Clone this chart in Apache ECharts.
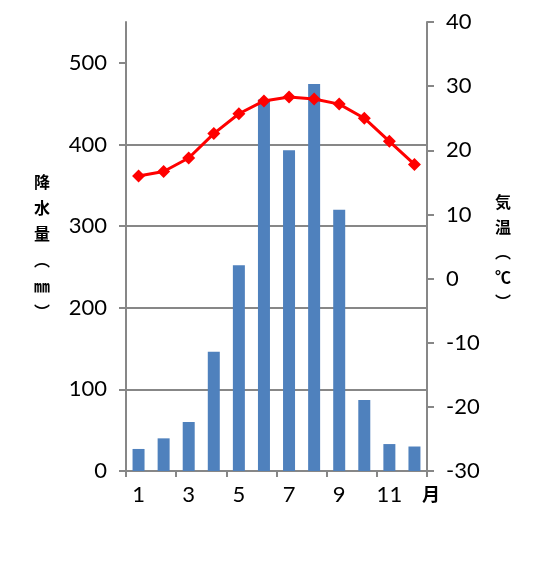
<!DOCTYPE html>
<html>
<head>
<meta charset="utf-8">
<script src="https://cdn.jsdelivr.net/npm/echarts@6/dist/echarts.min.js"></script>
<style>
html,body{margin:0;padding:0;background:#fff;}
#c{width:547px;height:576px;}
</style>
</head>
<body>
<div id="c"></div>
<script>
const months = ['1','2','3','4','5','6','7','8','9','10','11','12'];
const precipitation = [27, 40, 60, 146, 252, 455, 393, 474, 320, 87, 33, 30];
const temperature = [16.0, 16.7, 18.8, 22.6, 25.7, 27.7, 28.3, 28.0, 27.2, 25.0, 21.4, 17.8];
const precipTicks = [0, 100, 200, 300, 400, 500];
const leftTitle = ['降','水','量','︵','㎜','︶'];
const rightTitle = ['気','温','︵','℃','︶'];
const monthUnit = '月';

const chart = echarts.init(document.getElementById('c'));
const numFont = 'Lato';
const cjkFont = '"Noto Sans CJK JP"';
const axisGrey = '#878787';

chart.setOption({
  animation: false,
  grid: { left: 126, right: 120, top: 22, bottom: 105 },
  xAxis: {
    type: 'category',
    data: months,
    boundaryGap: true,
    axisLine: { lineStyle: { color: axisGrey, width: 2 } },
    axisTick: { show: true, length: 6, lineStyle: { color: axisGrey, width: 2 } },
    axisLabel: { interval: 1, color: '#000', fontSize: 22, fontFamily: numFont, margin: 13 }
  },
  yAxis: [
    {
      type: 'value', min: 0, max: 550, interval: 100, position: 'left',
      axisLine: { show: true, lineStyle: { color: axisGrey, width: 2 } },
      axisTick: { show: true, length: 7, customValues: precipTicks, lineStyle: { color: axisGrey, width: 2 } },
      axisLabel: { color: '#000', fontSize: 22, fontFamily: numFont, margin: 19, customValues: precipTicks },
      splitLine: { show: true, showMaxLine: false, lineStyle: { color: axisGrey, width: 2 } }
    },
    {
      type: 'value', min: -30, max: 40, interval: 10, position: 'right',
      axisLine: { show: true, lineStyle: { color: axisGrey, width: 2 } },
      axisTick: { show: true, length: 7, lineStyle: { color: axisGrey, width: 2 } },
      axisLabel: { color: '#000', fontSize: 22, fontFamily: numFont, margin: 19 },
      splitLine: { show: false }
    }
  ],
  series: [
    {
      type: 'bar', yAxisIndex: 0, data: precipitation, barWidth: 12,
      itemStyle: { color: '#4F81BD' }, z: 2
    },
    {
      type: 'line', yAxisIndex: 1, data: temperature,
      symbol: 'diamond', symbolSize: 13,
      lineStyle: { color: '#FF0000', width: 3 },
      itemStyle: { color: '#FF0000' }, z: 3
    }
  ],
  graphic: [
    {
      type: 'text', left: 34, top: 169,
      style: { text: leftTitle.join('\n'), fontSize: 16, fontWeight: 'bold', fontFamily: cjkFont,
               lineHeight: 26, fill: '#000', align: 'center' }
    },
    {
      type: 'text', left: 495, top: 189,
      style: { text: rightTitle.join('\n'), fontSize: 16, fontWeight: 'bold', fontFamily: cjkFont,
               lineHeight: 25, fill: '#000', align: 'center' }
    },
    {
      type: 'text', left: 422, top: 485,
      style: { text: monthUnit, fontSize: 18, fontWeight: 'bold', fontFamily: cjkFont, fill: '#000' }
    }
  ]
});
</script>
</body>
</html>
